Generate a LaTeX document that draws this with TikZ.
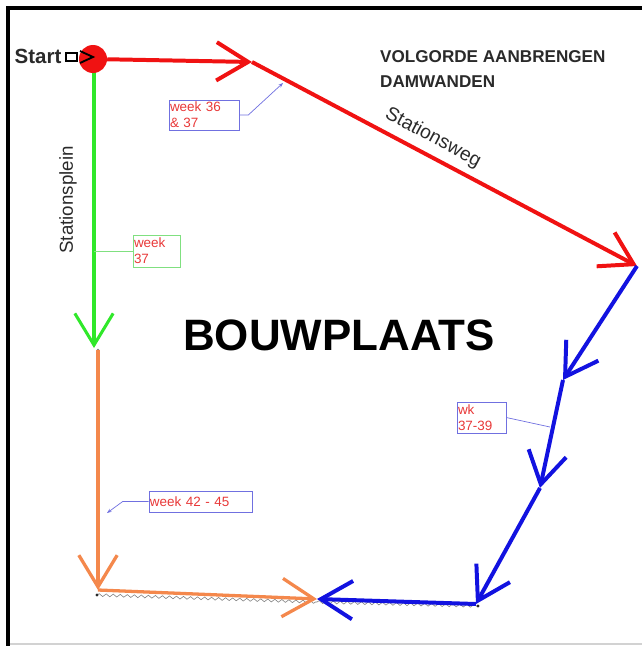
\documentclass[tikz,border=0pt]{standalone}
\usepackage{fontspec}
\setmainfont{Liberation Sans}
\usetikzlibrary{arrows.meta,decorations.pathmorphing}
\definecolor{wallred}{HTML}{F01212}
\definecolor{wallgreen}{HTML}{30E82A}
\definecolor{wallblue}{HTML}{1212E0}
\definecolor{wallorange}{HTML}{F4884C}
\definecolor{boxblue}{HTML}{7070E0}
\definecolor{boxgreen}{HTML}{80E080}
\definecolor{labelred}{HTML}{E83838}
\definecolor{darktext}{HTML}{2A2A2A}
\begin{document}
\begin{tikzpicture}[x=0.03cm, y=-0.03cm,
        chev/.style={-{Straight Barb[length=0.95cm,width=1.15cm]}},
        redline/.style={draw=wallred, line width=3.4pt, chev},
        greenline/.style={draw=wallgreen, line width=2.6pt, chev},
        blueline/.style={draw=wallblue, line width=3.4pt, chev},
        orangeline/.style={draw=wallorange, line width=2.8pt, chev},
        scallop/.style={draw=gray, line width=0.5pt,
                        decorate, decoration={snake, amplitude=1.2pt, segment length=6pt}},
        callbox/.style={draw=boxblue, line width=0.6pt, inner xsep=0.8pt, inner ysep=0pt,
                        align=left, text=labelred, font=\fontsize{11.5}{13.5}\selectfont},
        callout/.style={draw=boxblue, line width=0.6pt, -{Stealth[length=4pt,width=3pt]}}]
	\useasboundingbox (0,0) rectangle (642,646);
	\draw[gray!35, line width=1pt] (8,644) -- (642,644);
	\draw[black, line width=2.6pt] (8,646) -- (8,8) -- (642,8);

	\coordinate (r1) at (252,62);
	\coordinate (r2) at (637,266);
	\coordinate (b1) at (563,380);
	\coordinate (b2) at (540,488);
	\coordinate (b3) at (476,604);
	\coordinate (m)  at (317,599);
	\coordinate (g0) at (94,66);
	\coordinate (g1) at (94,348);
	\coordinate (o0) at (98,350);
	\coordinate (o1) at (98,590);
	\coordinate (s1) at (97,595);
	\coordinate (s2) at (317,602);
	\coordinate (s3) at (478,606);

	\draw[scallop] (s1) -- (s2);
	\draw[scallop] (s2) -- (s3);
	\fill[darktext] (s1) circle (1.6);
	\fill[darktext] (s3) circle (1.6);
	\fill[gray] (o0) circle (1.4);

	\draw[greenline] (g0) -- (g1);
	\node[circle, fill=wallred, minimum size=0.84cm, inner sep=0pt] (start) at (93,59) {};
	\draw[redline]   (start) -- (r1);
	\draw[redline]   (r1) -- (r2);
	\draw[blueline]  (r2) -- (b1);
	\draw[blueline]  (b1) -- (b2);
	\draw[blueline]  (b2) -- (b3);
	\draw[blueline]  (b3) -- (m);
	\draw[orangeline] (o0) -- (o1);
	\draw[orangeline] (o1) -- (m);

	\node[font=\bfseries\fontsize{17.5}{20}\selectfont, text=darktext, inner sep=0pt] (starttext) at (38,56) {Start};
	\draw[black, line width=1.1pt] (66,53) rectangle (77,61);
	\draw[black, line width=1.6pt] (80,51) -- (93,57) -- (80,63);

	\node[font=\bfseries\fontsize{14.6}{21.3}\selectfont, text=darktext, align=left,
	      inner sep=0pt, anchor=north west] (title) at (380,50.5)
	      {VOLGORDE AANBRENGEN\\DAMWANDEN};
	\node[font=\bfseries\fontsize{37.5}{40}\selectfont, text=black, inner sep=0pt] (site) at (339,335) {BOUWPLAATS};
	\node[font=\fontsize{16.5}{18}\selectfont, text=darktext, rotate=-28, inner sep=0pt] (weg) at (433,138) {Stationsweg};
	\node[font=\fontsize{16}{18}\selectfont, text=darktext, rotate=90, inner sep=0pt] (plein) at (68,200) {Stationsplein};

	\node[callbox, text width=2.04cm, minimum height=0.9cm] (w36) at (204,115) {week 36\\\& 37};
	\node[callbox, draw=boxgreen, text width=1.35cm, minimum height=0.96cm] (w37) at (156.5,251) {week\\37};
	\node[callbox, text width=3.03cm, minimum height=0.63cm] (w42) at (200.5,501.5) {week 42 - 45};
	\node[callbox, text width=1.41cm, minimum height=0.93cm] (wk) at (481.5,417.5) {wk\\37-39};

	\coordinate (w36tip) at (283,83);
	\coordinate (w37pt) at (94,251);
	\coordinate (w42tip) at (107,513);
	\coordinate (wkpt) at (550,427);
	\draw[callout] (w36.east) -- ++(9,0) -- (w36tip);
	\draw[draw=boxgreen, line width=0.6pt] (w37.west) -- (w37pt);
	\draw[callout] (w42.west) -- ++(-26,0) -- (w42tip);
	\draw[draw=boxblue, line width=0.6pt] (wk.east) -- (wkpt);
\end{tikzpicture}
\end{document}
